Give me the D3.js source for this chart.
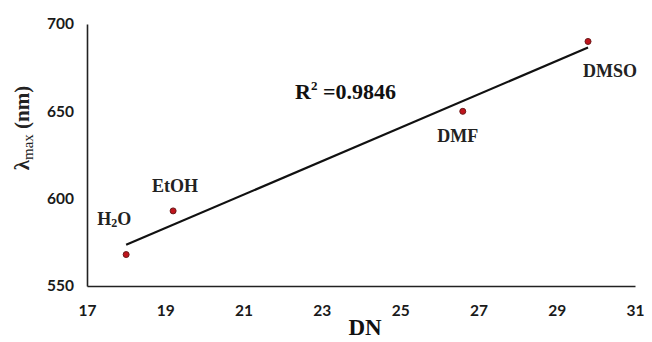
<!DOCTYPE html>
<html>
<head>
<meta charset="utf-8">
<script src="https://cdn.jsdelivr.net/npm/d3@7"></script>
<style>
  html, body { margin: 0; padding: 0; background: #fff; }
  svg { display: block; }
</style>
</head>
<body>
<svg id="chart" width="652" height="342"></svg>
<script>
// Solvent donor number vs. absorption maximum
const solvents = ["H2O", "EtOH", "DMF", "DMSO"];
const donorNumber = [18, 19.2, 26.6, 29.8];
const lambdaMax = [568, 593, 650, 690];
const xTicks = [17, 19, 21, 23, 25, 27, 29, 31];
const yTicks = [550, 600, 650, 700];

const svg = d3.select("#chart");
const margin = { left: 87, right: 17, top: 24, bottom: 56 };
const W = 652, H = 342;

const x = d3.scaleLinear().domain([17, 31]).range([margin.left, W - margin.right]);
const y = d3.scaleLinear().domain([550, 700]).range([H - margin.bottom, margin.top]);

// Axes: plain lines, no tick marks
const xAxis = svg.append("g")
  .attr("transform", `translate(0,${y(550)})`)
  .call(d3.axisBottom(x).tickValues(xTicks).tickSize(0).tickPadding(19).tickFormat(d3.format("d")));
const yAxis = svg.append("g")
  .attr("transform", `translate(${x(17)},0)`)
  .call(d3.axisLeft(y).tickValues(yTicks).tickSize(0).tickPadding(13).tickFormat(d3.format("d")));

[xAxis, yAxis].forEach(g => {
  g.select(".domain").attr("stroke", "#222").attr("stroke-width", 1.6);
  g.selectAll("text")
    .attr("font-family", "Lato, 'Open Sans', sans-serif")
    .attr("font-weight", "bold")
    .attr("font-size", 15.5)
    .attr("fill", "#1a1a1a");
});

// Least-squares trend line
const n = donorNumber.length;
const mx = d3.mean(donorNumber), my = d3.mean(lambdaMax);
let sxy = 0, sxx = 0, syy = 0;
for (let i = 0; i < n; i++) {
  sxy += (donorNumber[i] - mx) * (lambdaMax[i] - my);
  sxx += (donorNumber[i] - mx) ** 2;
  syy += (lambdaMax[i] - my) ** 2;
}
const slope = sxy / sxx, intercept = my - slope * mx;
const x0 = d3.min(donorNumber), x1 = d3.max(donorNumber);
svg.append("line")
  .attr("x1", x(x0)).attr("y1", y(intercept + slope * x0))
  .attr("x2", x(x1)).attr("y2", y(intercept + slope * x1))
  .attr("stroke", "#111").attr("stroke-width", 2.2);

// Data points
svg.append("g").selectAll("circle")
  .data(donorNumber)
  .join("circle")
  .attr("cx", d => x(d))
  .attr("cy", (d, i) => y(lambdaMax[i]))
  .attr("r", 3)
  .attr("fill", "#c0141c")
  .attr("stroke", "#6a1a1a")
  .attr("stroke-width", 1);

// Point labels
const labelOffsets = [
  { dx: -12, dy: -30 },
  { dx: 2, dy: -19 },
  { dx: -5, dy: 31 },
  { dx: 22, dy: 36 }
];
const serif = "'Liberation Serif', 'Times New Roman', serif";
const lbl = svg.append("g")
  .attr("font-family", serif).attr("font-weight", "bold").attr("font-size", 18).attr("fill", "#222");
solvents.forEach((s, i) => {
  const t = lbl.append("text")
    .attr("x", x(donorNumber[i]) + labelOffsets[i].dx)
    .attr("y", y(lambdaMax[i]) + labelOffsets[i].dy)
    .attr("text-anchor", "middle");
  if (s === "H2O") {
    t.append("tspan").text("H");
    t.append("tspan").attr("font-size", 12).attr("dy", 2).text("2");
    t.append("tspan").attr("dy", -2).text("O");
  } else {
    t.text(s);
  }
});

// Coefficient of determination
const r2 = (sxy * sxy) / (sxx * syy);
const r2t = svg.append("text")
  .attr("x", 295).attr("y", 99)
  .attr("font-family", serif).attr("font-weight", "bold").attr("font-size", 22).attr("fill", "#111");
r2t.append("tspan").text("R");
r2t.append("tspan").attr("font-size", 13).attr("dy", -9).text("2");
r2t.append("tspan").attr("dy", 9).text(" =" + r2.toFixed(4));

// Axis titles
svg.append("text")
  .attr("x", 365).attr("y", 335)
  .attr("text-anchor", "middle")
  .attr("font-family", serif).attr("font-weight", "bold").attr("font-size", 23).attr("fill", "#111")
  .text("DN");

const yt = svg.append("text")
  .attr("transform", "translate(29,128) rotate(-90)")
  .attr("text-anchor", "middle")
  .attr("font-family", serif).attr("font-weight", "bold").attr("font-size", 21).attr("fill", "#222");
yt.append("tspan").text("λ");
yt.append("tspan").attr("font-size", 15).attr("dy", 4).attr("font-weight", "normal").text("max");
yt.append("tspan").attr("dy", -4).text(" (nm)");
</script>
</body>
</html>
